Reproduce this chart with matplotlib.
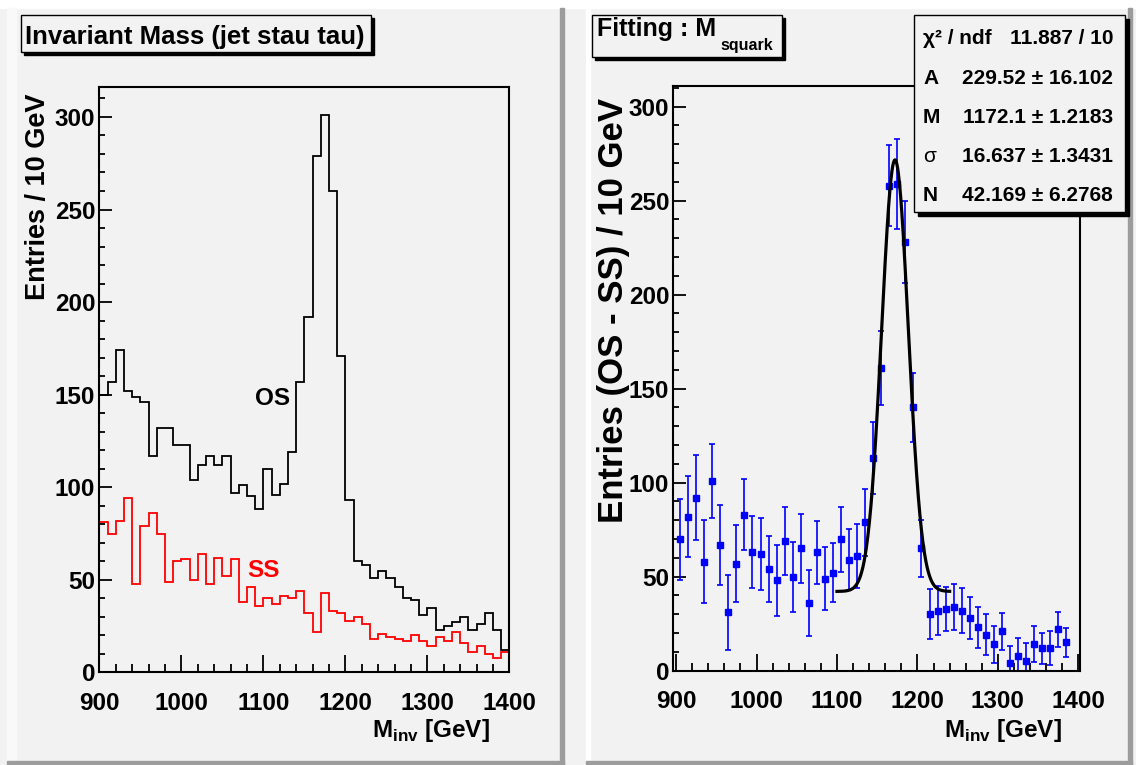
import numpy as np
import matplotlib
matplotlib.use("Agg")
import matplotlib.pyplot as plt
from matplotlib.patches import Rectangle
from matplotlib.ticker import MultipleLocator

plt.rcParams['font.family'] = ['Liberation Sans', 'DejaVu Sans']
plt.rcParams['font.weight'] = 'bold'
plt.rcParams['mathtext.fontset'] = 'custom'
plt.rcParams['mathtext.rm'] = 'Liberation Sans:bold'
plt.rcParams['mathtext.bf'] = 'Liberation Sans:bold'

# invariant mass histograms, 10 GeV bins from 900 to 1400
mass_lo, mass_hi, bin_w = 900, 1400, 10
os_counts = [150, 157, 174, 152, 149, 146, 117, 132, 132, 123,
             123, 104, 112, 117, 112, 117, 97, 101, 95, 88,
             110, 96, 102, 119, 157, 192, 279, 301, 260, 171,
             93, 60, 58, 51, 55, 51, 46, 40, 39, 31,
             35, 23, 25, 27, 30, 23, 26, 32, 23, 12]
ss_counts = [81, 75, 82, 94, 48, 79, 86, 75, 49, 60,
             61, 50, 64, 48, 62, 52, 61, 38, 46, 36,
             40, 37, 41, 40, 44, 32, 22, 43, 33, 32,
             28, 30, 26, 18, 21, 19, 18, 17, 20, 17,
             14, 19, 17, 22, 16, 11, 14, 10, 8, 11]

# OS - SS points (bin centres 905 ... 1385)
diff_vals = [70, 82, 92, 58, 101, 67, 31, 57, 83, 63,
             62, 54, 48, 69, 50, 65, 36, 63, 49, 52,
             70, 59, 61, 79, 113, 161, 258, 259, 228, 140,
             65, 30, 32, 33, 34, 32, 28, 23, 19, 14,
             21, 4, 8, 5, 14, 12, 12, 22, 15]
diff_errs = [21.5, 21.5, 22.6, 22.2, 19.8, 21.2, 20.1, 20.3, 19.0, 19.1,
             19.2, 17.5, 18.8, 18.2, 18.7, 18.4, 17.8, 16.7, 16.8, 15.7,
             17.3, 16.3, 16.9, 17.8, 19.1, 19.5, 21.5, 24.0, 22.0, 18.6,
             15.0, 13.4, 13.0, 11.7, 12.3, 11.8, 11.3, 10.7, 10.9, 9.8,
             9.9, 9.2, 9.2, 9.9, 9.6, 8.2, 8.9, 9.2, 7.9]

# gaussian + constant fit
fit_A, fit_M, fit_sigma, fit_N = 229.52, 1172.1, 16.637, 42.169
fit_lo, fit_hi = 1100, 1240
stat_labels = ["χ² / ndf", "A", "M", "σ", "N"]
stat_values = ["11.887 / 10", "229.52 ± 16.102", "1172.1 ± 1.2183",
               "16.637 ± 1.3431", "42.169 ± 6.2768"]

edges = np.arange(mass_lo, mass_hi + bin_w, bin_w)
centers = edges[:len(diff_vals)] + bin_w / 2.0

W, H = 1136, 765
PAD = '#f2f2f2'
SHADE = '#9c9c9c'
fig = plt.figure(figsize=(W / 100.0, H / 100.0), dpi=100, facecolor=PAD)


def pixel_axes(z):
    a = fig.add_axes([0, 0, 1, 1], zorder=z)
    a.set_xlim(0, W)
    a.set_ylim(H, 0)
    a.axis('off')
    a.patch.set_alpha(0)
    return a


def frac(x0, y0, x1, y1):
    return [x0 / W, (H - y1) / H, (x1 - x0) / W, (y1 - y0) / H]


# pad bevels
bg = pixel_axes(-5)
bg.add_patch(Rectangle((0, 0), W, 8, color='white'))
bg.add_patch(Rectangle((7, 8), 9, 753, color='#f9f9f9'))
bg.add_patch(Rectangle((560, 8), 4, 757, color=SHADE))
bg.add_patch(Rectangle((7, 761), 557, 4, color=SHADE))
bg.add_patch(Rectangle((586, 8), 4, 753, color='white'))
bg.add_patch(Rectangle((1128, 8), 4, 757, color=SHADE))
bg.add_patch(Rectangle((586, 761), 546, 4, color=SHADE))


def style_axes(ax):
    ax.patch.set_alpha(0)
    for s in ax.spines.values():
        s.set_linewidth(1.5)
    ax.xaxis.set_major_locator(MultipleLocator(100))
    ax.xaxis.set_minor_locator(MultipleLocator(20))
    ax.yaxis.set_major_locator(MultipleLocator(50))
    ax.yaxis.set_minor_locator(MultipleLocator(10))
    ax.tick_params(which='both', direction='in', top=False, right=False,
                   width=1.3, labelsize=17.5, color='black')
    ax.tick_params(axis='x', which='major', length=12.5, pad=14)
    ax.tick_params(axis='x', which='minor', length=6)
    ax.tick_params(axis='y', which='major', length=9, pad=3)
    ax.tick_params(axis='y', which='minor', length=4.5)


# left: OS and SS histograms
axL = fig.add_axes(frac(99.3, 87.3, 509.3, 672.4))
axL.stairs(os_counts, edges, baseline=None, color='black', lw=1.3)
axL.stairs(ss_counts, edges, baseline=None, color='red', lw=1.3)
axL.set_xlim(mass_lo, mass_hi)
axL.set_ylim(0, 316)
style_axes(axL)
axL.text(1111, 148, "OS", color='black', fontsize=17.5, ha='center', va='center')
axL.text(1100, 55, "SS", color='red', fontsize=17.5, ha='center', va='center')

# right: OS - SS with fit
axR = fig.add_axes(frac(673.3, 86, 1080, 670.7))
axR.errorbar(centers, diff_vals, yerr=diff_errs, fmt='s', color='blue',
             ms=4, capsize=2.4, elinewidth=1.2, capthick=1.2, zorder=2)
xf = np.linspace(fit_lo, fit_hi, 300)
yf = fit_A * np.exp(-0.5 * ((xf - fit_M) / fit_sigma) ** 2) + fit_N
axR.plot(xf, yf, color='black', lw=2.3, zorder=3)
axR.set_xlim(896.6, 1402)
axR.set_ylim(0, 311)
style_axes(axR)

# titles, boxes, axis titles
fg = pixel_axes(10)


def shadow_box(x, y, w, h, off):
    fg.add_patch(Rectangle((x + off, y + off), w, h, color='black'))
    fg.add_patch(Rectangle((x, y), w, h, facecolor=PAD, edgecolor='black', lw=1))


shadow_box(20.7, 15, 350, 36.7, 3)
fg.text(25, 43.5, "Invariant Mass (jet stau tau)", fontsize=18.5, va='baseline')

shadow_box(591.7, 15, 190, 41.7, 3)
fg.text(597, 36, "Fitting : M", fontsize=18, va='baseline')
fg.text(720, 50, "squark", fontsize=11.5, va='baseline')

shadow_box(914, 15, 211, 197, 4)
row_base = [44, 84, 123, 162, 201]
for lab, val, yb in zip(stat_labels, stat_values, row_base):
    w = 'normal' if lab == "σ" else 'bold'
    fg.text(923, yb, lab, fontsize=15, va='baseline', ha='left', fontweight=w)
    fg.text(1113, yb, val, fontsize=15, va='baseline', ha='right')

fg.text(38, 93, "Entries / 10 GeV", rotation=90, fontsize=19.5,
        ha='center', va='top')
fg.text(613, 98, "Entries (OS - SS) / 10 GeV", rotation=90, fontsize=25,
        ha='center', va='top')
fg.text(490, 737, r"M$_{\mathrm{inv}}$ [GeV]", fontsize=17.5, ha='right', va='baseline')
fg.text(1062, 737, r"M$_{\mathrm{inv}}$ [GeV]", fontsize=17.5, ha='right', va='baseline')

fig.savefig("out.png", dpi=100, facecolor=PAD)
